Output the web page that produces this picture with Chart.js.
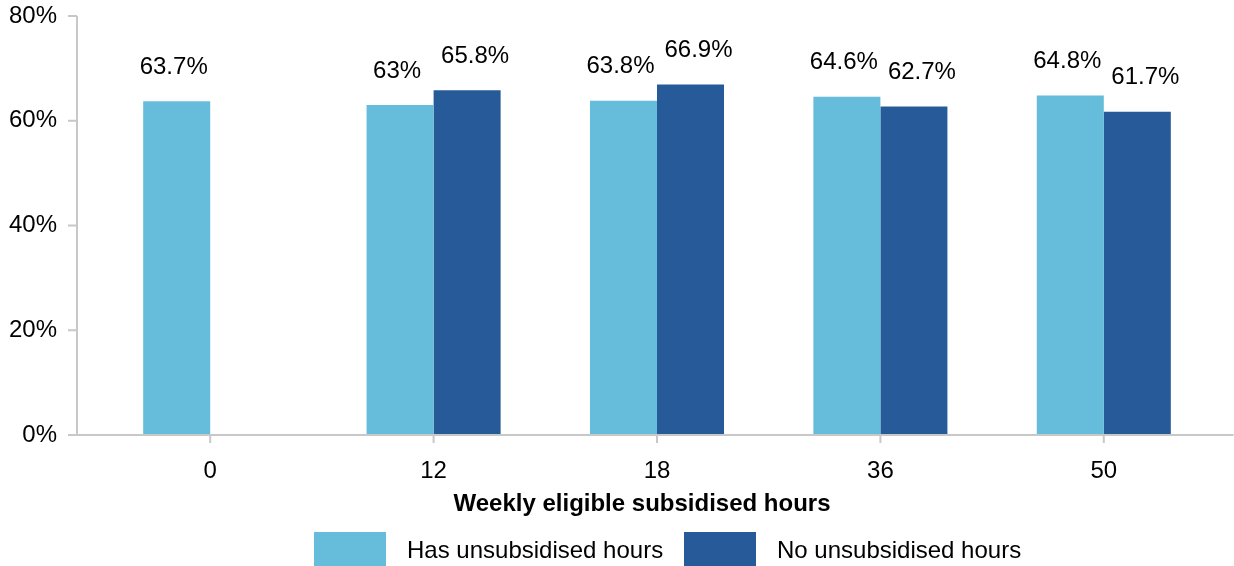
<!DOCTYPE html>
<html>
<head>
<meta charset="utf-8">
<script src="https://cdn.jsdelivr.net/npm/chart.js@4"></script>
<style>
    html, body { margin: 0; padding: 0; background: #fff; }
    #wrap { width: 1234px; height: 566px; }
</style>
</head>
<body>
<div id="wrap"><canvas id="grafico" width="1234" height="566"></canvas></div>
<script>
const categorias = ["0", "12", "18", "36", "50"];
const conHoras = [63.7, 63, 63.8, 64.6, 64.8];
const sinHoras = [null, 65.8, 66.9, 62.7, 61.7];
const etiquetasSeries = ["Has unsubsidised hours", "No unsubsidised hours"];
const colores = ["#66bcdb", "#275a98"];
const tituloX = "Weekly eligible subsidised hours";
const ticksY = [0, 20, 40, 60, 80];

const fuente = "'Liberation Sans', Arial, sans-serif";
const gris = "#c8c8c8";

// ejes, etiquetas de valor, titulo y leyenda
const extras = {
    id: "extras",
    afterDraw(chart) {
        const ctx = chart.ctx;
        const x = chart.scales.x;
        const y = chart.scales.y;
        const area = chart.chartArea;
        const ejeX = area.left - 21.5;
        const y0 = y.getPixelForValue(0);

        ctx.save();
        ctx.strokeStyle = gris;
        ctx.lineWidth = 2;
        ctx.beginPath();
        ctx.moveTo(ejeX, y.getPixelForValue(80));
        ctx.lineTo(ejeX, y0);
        ticksY.forEach(v => {
            const py = y.getPixelForValue(v);
            ctx.moveTo(ejeX - 9, py);
            ctx.lineTo(ejeX, py);
        });
        ctx.moveTo(ejeX - 9, y0);
        ctx.lineTo(area.right + 18, y0);
        categorias.forEach((c, i) => {
            const px = x.getPixelForValue(i);
            ctx.moveTo(px, y0);
            ctx.lineTo(px, y0 + 8);
        });
        ctx.stroke();

        // las etiquetas se separan un poco para no pisarse
        const desplazamiento = [-3, 8];
        ctx.fillStyle = "#000";
        ctx.font = "24px " + fuente;
        ctx.textAlign = "center";
        ctx.textBaseline = "middle";
        chart.data.datasets.forEach((ds, d) => {
            const meta = chart.getDatasetMeta(d);
            meta.data.forEach((bar, i) => {
                const v = ds.data[i];
                if (v === null) return;
                ctx.fillText(v + "%", bar.x + desplazamiento[d], bar.y - 34);
            });
        });

        ctx.font = "bold 24px " + fuente;
        ctx.fillText(tituloX, 642, 504);

        ctx.font = "24px " + fuente;
        ctx.textAlign = "left";
        const posiciones = [314, 684];
        etiquetasSeries.forEach((t, i) => {
            ctx.fillStyle = colores[i];
            ctx.fillRect(posiciones[i], 532, 72, 34);
            ctx.fillStyle = "#000";
            ctx.fillText(t, posiciones[i] + 93, 551);
        });
        ctx.restore();
    }
};

new Chart(document.getElementById("grafico"), {
    type: "bar",
    data: {
        labels: categorias,
        datasets: [
            { label: etiquetasSeries[0], data: conHoras, backgroundColor: colores[0] },
            { label: etiquetasSeries[1], data: sinHoras, backgroundColor: colores[1] }
        ]
    },
    options: {
        responsive: false,
        animation: false,
        categoryPercentage: 0.6,
        barPercentage: 1,
        layout: { padding: { top: 16, right: 18.5, left: 0, bottom: 0 } },
        plugins: {
            legend: { display: false },
            tooltip: { enabled: false }
        },
        scales: {
            x: {
                grid: { display: false, drawTicks: false },
                border: { display: false },
                ticks: { color: "#000", font: { family: fuente, size: 24 }, padding: 22 },
                afterFit: s => { s.height = 131; s.paddingLeft = 0; s.paddingRight = 0; }
            },
            y: {
                min: 0,
                max: 80,
                grid: { display: false, drawTicks: false },
                border: { display: false },
                afterBuildTicks: s => { s.ticks = ticksY.map(v => ({ value: v })); },
                ticks: {
                    color: "#000",
                    font: { family: fuente, size: 24 },
                    padding: 41.5,
                    callback: v => v + "%"
                },
                afterFit: s => { s.width = 98.5; s.paddingTop = 0; s.paddingBottom = 0; }
            }
        }
    },
    plugins: [extras]
});
</script>
</body>
</html>
